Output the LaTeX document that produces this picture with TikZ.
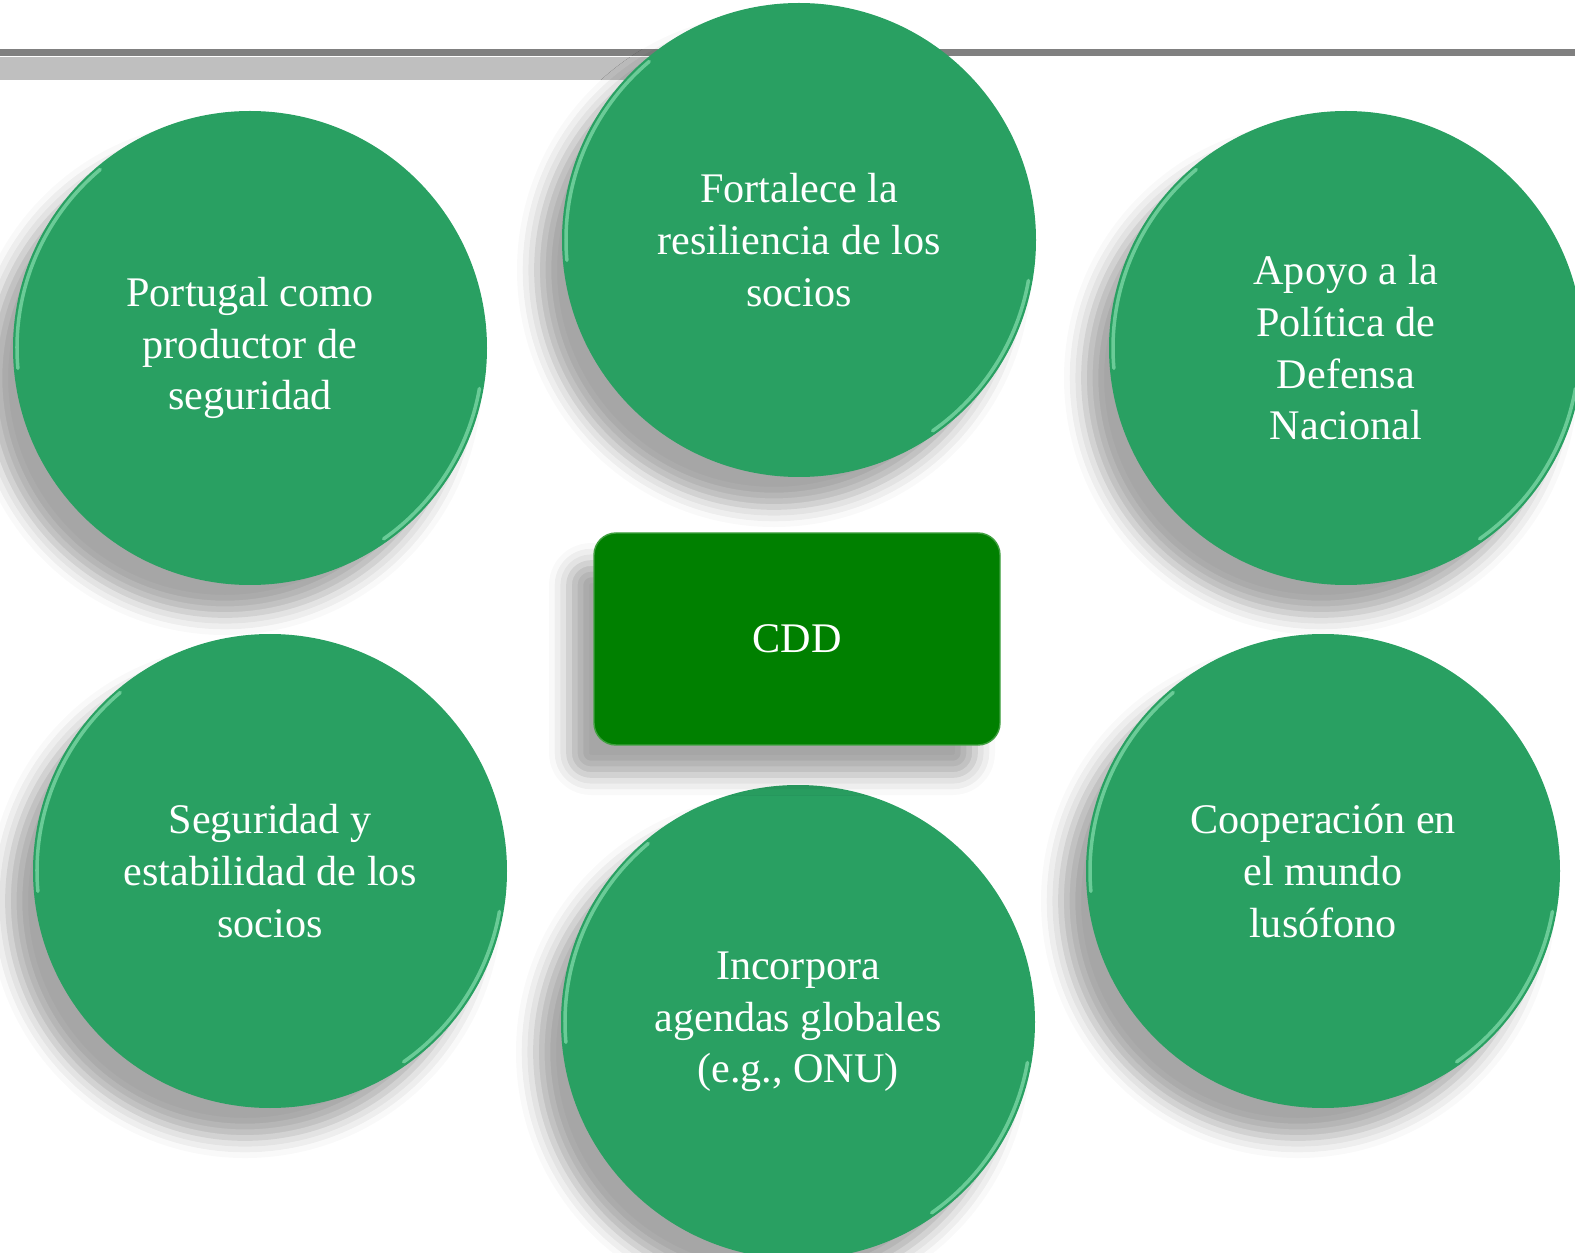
\documentclass[tikz,border=0pt]{standalone}
\usepackage{fontspec}
\setmainfont{Liberation Serif}
\usetikzlibrary{shapes}
\usetikzlibrary{shadows.blur}
\definecolor{cddgreen}{RGB}{41,160,98}
\definecolor{cdddark}{RGB}{0,128,0}
\definecolor{cddglint}{RGB}{160,240,195}
\definecolor{barlight}{RGB}{191,191,191}
\definecolor{bardark}{RGB}{128,128,128}
\tikzset{
	cddnode/.style = {align=center, inner sep=0pt, text centered,
		white, font=\fontsize{12}{14.7}\selectfont},
	cdd_c/.style = {cddnode, circle, fill=cddgreen, minimum size=4.74cm,
		blur shadow={shadow xshift=-0.25cm, shadow yshift=-0.3cm,
			shadow blur radius=0.2cm, shadow opacity=35}},% circulo verde
	cdd_r/.style = {cddnode, rectangle, rounded corners=0.22cm,
		fill=cdddark, draw=cdddark!75!white, thin,
		minimum width=4.06cm, minimum height=2.12cm,
		blur shadow={shadow xshift=-0.25cm, shadow yshift=-0.3cm,
			shadow blur radius=0.2cm, shadow opacity=35}},% caja central
	glint/.style = {draw=cddglint, line width=1pt, line cap=round,
		opacity=0.55}% brillo del borde
}

\begin{document}
\begin{tikzpicture}
	\useasboundingbox (0,0) rectangle (15.75,-12.53);
	\clip (0,0) rectangle (15.75,-12.53);
	% barras grises
	\fill[barlight] (0,-0.57) rectangle (8,-0.80);
	\fill[bardark] (0,-0.49) rectangle (15.75,-0.565);
	% circulos
	\node[cdd_c] (fortalece) at (7.99,-2.40) {Fortalece la\\resiliencia de los\\socios};
	\node[cdd_c] (portugal) at (2.50,-3.48) {Portugal como\\productor de\\seguridad};
	\node[cdd_c] (apoyo) at (13.46,-3.48) {Apoyo a la\\Política de\\Defensa\\Nacional};
	\node[cdd_c] (seguridad) at (2.70,-8.71) {Seguridad y\\estabilidad de los\\socios};
	\node[cdd_c] (cooperacion) at (13.23,-8.71) {Cooperación en\\el mundo\\lusófono};
	\node[cdd_c] (incorpora) at (7.98,-10.22) {Incorpora\\agendas globales\\(e.g., ONU)};
	\node[cdd_r] (cdd) at (7.97,-6.39) {CDD};
	% brillos
	\foreach \n in {fortalece,portugal,apoyo,seguridad,cooperacion,incorpora}{
		\draw[glint] (\n.center) ++(185:2.33) arc[start angle=185, end angle=130, radius=2.33];
		\draw[glint] (\n.center) ++(-10:2.33) arc[start angle=-10, end angle=-55, radius=2.33];
	}
\end{tikzpicture}
\end{document}
